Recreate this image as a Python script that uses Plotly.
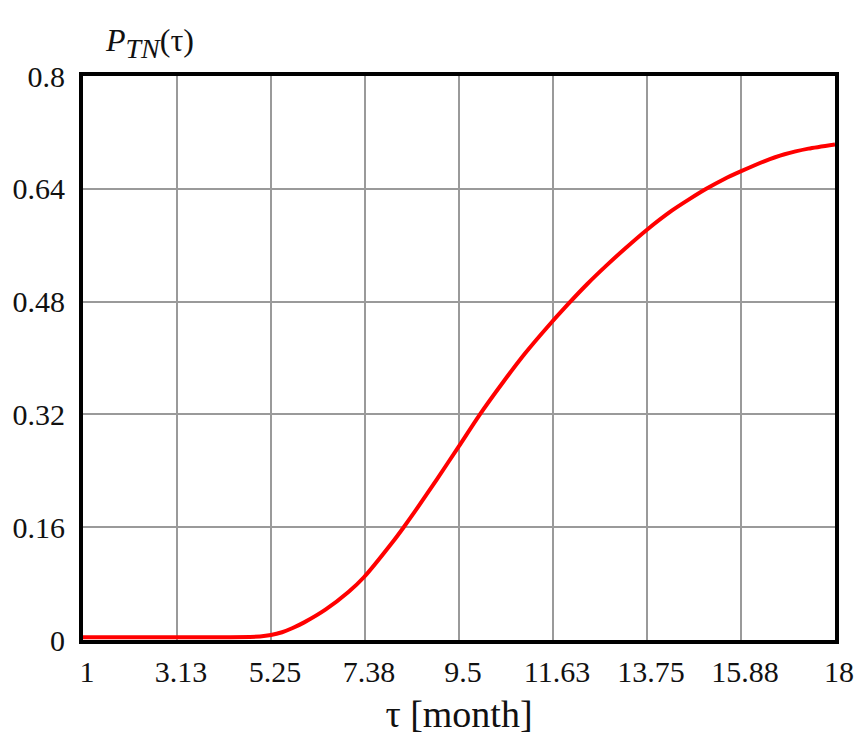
import plotly.graph_objects as go

tau = [1, 2, 3, 4, 5, 5.25, 5.5, 5.74, 6, 6.48, 7, 7.35, 8, 8.25, 8.5, 9, 9.5, 9.95,
       10.5, 11, 11.5, 11.96, 12.4, 12.83, 13.25, 13.75, 14.31, 14.7, 15.09, 15.5,
       15.88, 16.4, 16.86, 17.4, 18]
p_tn = [0.004, 0.004, 0.004, 0.004, 0.005, 0.007, 0.011, 0.017, 0.025, 0.043, 0.068,
        0.089, 0.139, 0.160, 0.182, 0.228, 0.275, 0.318, 0.366, 0.407, 0.444, 0.476,
        0.505, 0.531, 0.555, 0.582, 0.609, 0.625, 0.640, 0.654, 0.665, 0.679, 0.689,
        0.697, 0.703]

x_tickvals = [1, 3.125, 5.25, 7.375, 9.5, 11.625, 13.75, 15.875, 18]
x_ticktext = ["1", "3.13", "5.25", "7.38", "9.5", "11.63", "13.75", "15.88", "18"]
y_tickvals = [0, 0.16, 0.32, 0.48, 0.64, 0.8]
y_ticktext = ["0", "0.16", "0.32", "0.48", "0.64", "0.8"]

font_family = "Liberation Serif, Times New Roman, serif"

fig = go.Figure()
fig.add_trace(go.Scatter(x=tau, y=p_tn, mode="lines",
                         line=dict(color="#ff0000", width=4, shape="spline", smoothing=0.6),
                         showlegend=False, hoverinfo="skip"))

fig.update_layout(
    width=866, height=749,
    margin=dict(l=78, r=28, t=76, b=109),
    paper_bgcolor="white", plot_bgcolor="white",
    font=dict(family=font_family, size=30, color="#111111"),
    xaxis=dict(range=[1, 18], tickvals=x_tickvals, ticktext=x_ticktext,
               showgrid=True, gridcolor="#9a9a9a", gridwidth=2,
               showline=True, linecolor="black", linewidth=4, mirror=True,
               ticks="", ticklabelstandoff=2, ticklabelshift=4, zeroline=False,
               title=dict(text="τ [month]", font=dict(size=38), standoff=14)),
    yaxis=dict(range=[0, 0.8], tickvals=y_tickvals, ticktext=y_ticktext,
               showgrid=True, gridcolor="#9a9a9a", gridwidth=2,
               showline=True, linecolor="black", linewidth=4, mirror=True,
               ticks="", ticklabelstandoff=8, zeroline=False),
    annotations=[dict(text="<i>P</i><sub><span style='font-size:28px'><i>TN</i></span></sub>(τ)",
                      xref="paper", yref="paper",
                      x=(98 - 78) / 760, y=1.0, xanchor="left", yanchor="bottom",
                      yshift=10, showarrow=False, font=dict(size=32))],
)

fig.write_html("out.html")
